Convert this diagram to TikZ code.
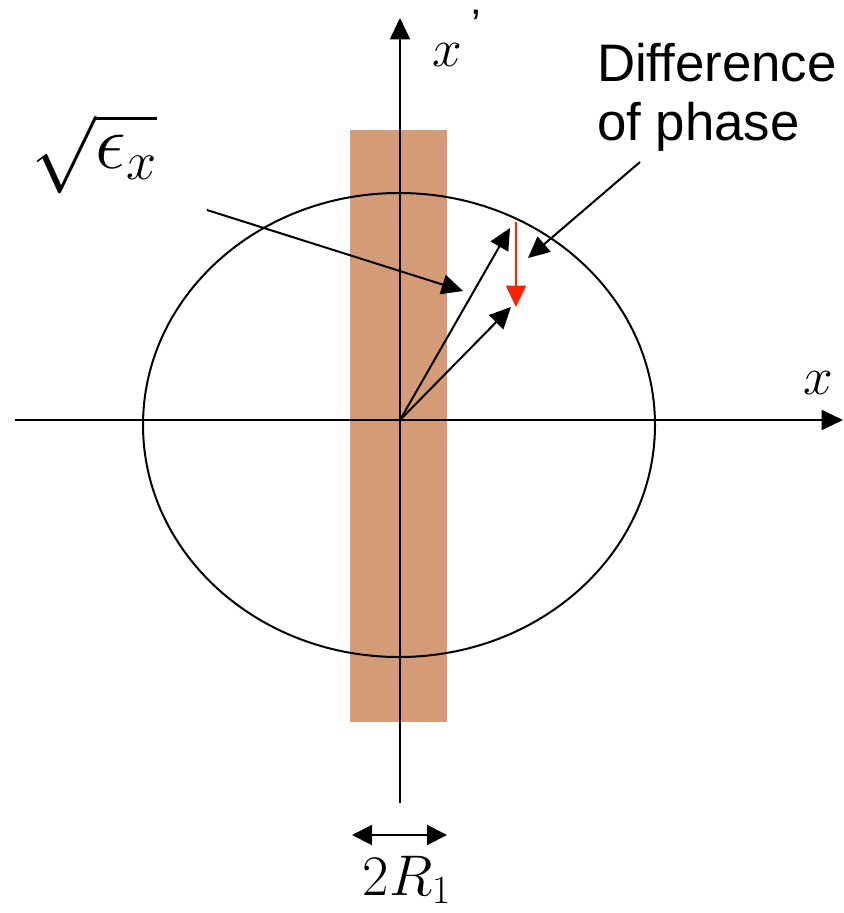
\RequirePackage{fix-cm}
\documentclass[tikz,border=0pt]{standalone}
\usepackage{fontspec}
\newfontfamily\arialfont{Liberation Sans}
\usetikzlibrary{arrows.meta}
\definecolor{slab}{RGB}{211,155,120}
\definecolor{phred}{RGB}{255,34,0}
\begin{document}
\begin{tikzpicture}[x=0.75pt,y=-0.75pt,line width=1.5pt,
  tip/.style={-{Triangle[length=16pt,width=15pt]}},
  dtip/.style={{Triangle[length=15pt,width=15pt]}-{Triangle[length=15pt,width=15pt]}},
  mlabel/.style={inner sep=0pt,font=\fontsize{40}{44}\selectfont},
  tlabel/.style={inner sep=0pt,align=left,font=\arialfont\fontsize{39.6}{44.5}\selectfont}]
\useasboundingbox (0,0) rectangle (843,913);
% beam slab
\fill[slab] (350,130) rectangle (447,722);
% axes
\coordinate (O) at (400,420);
\coordinate (xl) at (15,420);
\coordinate (xr) at (843,420);
\coordinate (yb) at (400,803);
\coordinate (yt) at (400,18);
\draw[tip] (xl) -- (xr);
\draw[tip] (yb) -- (yt);
% ellipse
\coordinate (C) at (399,425);
\draw (C) ellipse [x radius=192pt, y radius=174pt];
% vectors
\coordinate (v1) at (510,228);
\coordinate (v2) at (511,307);
\draw[tip] (O) -- (v1);
\draw[tip] (O) -- (v2);
\coordinate (r1) at (516,222);
\coordinate (r2) at (516,307);
\draw[tip,phred] (r1) -- (r2);
% labels
\node[mlabel,font=\fontsize{58}{62}\selectfont] (eps) at (94,154) {$\sqrt{\epsilon_x}$};
\node[mlabel] (xp) at (457,38) {$x$\raisebox{0.5em}{\,\fontsize{32}{34}\selectfont\arialfont\char"2019}};
\node[mlabel] (xlab) at (818,383) {$x$};
\node[mlabel,font=\fontsize{43}{46}\selectfont] (R) at (407,880) {$2R_1$};
\node[tlabel,anchor=north west] (diff) at (596,42) {Difference\\of phase};
% pointers
\coordinate (p1) at (207,210);
\coordinate (p1e) at (463,291);
\draw[tip] (p1) -- (p1e);
\coordinate (p2) at (640,162);
\coordinate (p2e) at (528,258);
\draw[tip] (p2) -- (p2e);
% 2R1 dimension
\coordinate (d1) at (352,835);
\coordinate (d2) at (447,835);
\draw[dtip] (d1) -- (d2);
\end{tikzpicture}
\end{document}
